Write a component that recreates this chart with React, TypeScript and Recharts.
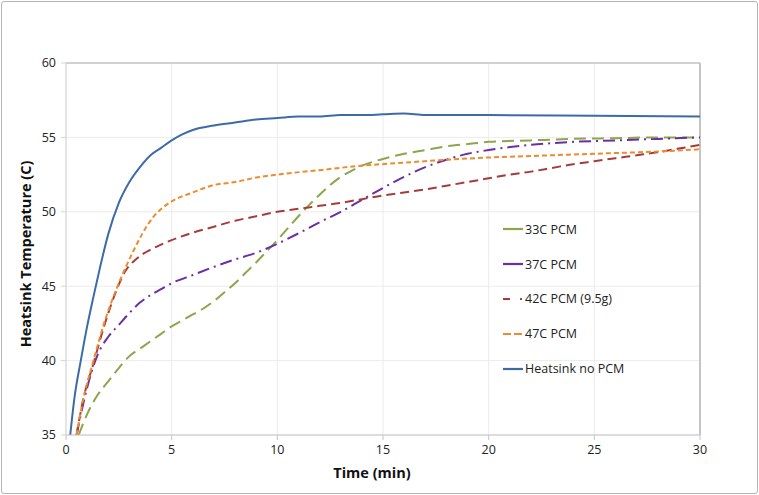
import { LineChart, Line, XAxis, YAxis, CartesianGrid, ReferenceLine } from 'recharts';

// time (min) / temperature (C)
const noPcmTime = [0.2, 0.4, 0.7, 1, 1.3, 1.6, 2, 2.5, 3, 3.5, 4, 4.5, 5, 5.5, 6, 7, 8, 9, 10, 11, 12, 13, 14, 15, 16, 17, 20, 25, 30];
const noPcmTemp = [35, 37.5, 40, 42.3, 44.3, 46.2, 48.5, 50.6, 52, 53, 53.8, 54.3, 54.8, 55.2, 55.5, 55.8, 56.0, 56.2, 56.3, 56.4, 56.4, 56.5, 56.5, 56.55, 56.6, 56.5, 56.5, 56.45, 56.4];

const pcm47Time = [0.5, 0.8, 1.3, 1.8, 2.3, 2.8, 3.2, 3.6, 4.1, 4.6, 5, 6, 7, 8, 9, 10, 12, 14, 16, 18, 20, 22, 24, 26, 28, 30];
const pcm47Temp = [35, 37.3, 40, 42.5, 44.5, 46.2, 47.4, 48.5, 49.6, 50.3, 50.7, 51.3, 51.8, 52.0, 52.3, 52.5, 52.8, 53.1, 53.3, 53.5, 53.65, 53.75, 53.85, 53.95, 54.05, 54.2];

const pcm42Time = [0.5, 0.8, 1.3, 1.8, 2.3, 2.8, 3.3, 3.8, 4.5, 5, 6, 7, 8, 9, 10, 11, 12, 13, 14, 15, 16, 17, 18, 19, 20, 21, 22, 23, 24, 25, 26, 27, 28, 29, 30];
const pcm42Temp = [35, 37.3, 39.8, 42.3, 44.4, 46, 46.8, 47.3, 47.8, 48.1, 48.6, 49.0, 49.4, 49.7, 50.0, 50.2, 50.4, 50.6, 50.85, 51.1, 51.3, 51.5, 51.75, 52.0, 52.25, 52.5, 52.7, 52.95, 53.2, 53.4, 53.6, 53.8, 54.0, 54.25, 54.5];

const pcm37Time = [0.5, 0.8, 1.2, 1.5, 2, 2.5, 3, 3.5, 4, 4.5, 5, 6, 7, 8, 9, 10, 11, 12, 13, 14, 15, 16, 17, 18, 19, 20, 22, 24, 26, 28, 30];
const pcm37Temp = [35, 37, 39.2, 40.4, 41.6, 42.4, 43.2, 43.9, 44.4, 44.8, 45.2, 45.75, 46.3, 46.8, 47.25, 47.85, 48.55, 49.3, 50.0, 50.8, 51.6, 52.35, 53.0, 53.5, 53.9, 54.15, 54.5, 54.7, 54.8, 54.9, 55.0];

const pcm33Time = [0.6, 1, 1.5, 2, 2.5, 3, 3.5, 4, 4.5, 5, 5.5, 6, 6.5, 7, 7.5, 8, 8.5, 9, 9.5, 10, 10.5, 11, 11.5, 12, 12.5, 13, 13.5, 14, 14.5, 15, 16, 17, 18, 19, 20, 22, 24, 26, 28, 30];
const pcm33Temp = [35, 36.4, 37.7, 38.6, 39.5, 40.3, 40.8, 41.3, 41.8, 42.3, 42.7, 43.1, 43.5, 44.0, 44.6, 45.2, 45.9, 46.6, 47.35, 48.1, 48.9, 49.7, 50.45, 51.15, 51.8, 52.35, 52.75, 53.1, 53.35, 53.55, 53.9, 54.15, 54.4, 54.55, 54.7, 54.8, 54.9, 54.95, 55.0, 55.0];

const xTicks = [0, 5, 10, 15, 20, 25, 30];
const yTicks = [35, 40, 45, 50, 55, 60];

const toPoints = (t: number[], v: number[]) => t.map((time, i) => ({ time, temp: v[i] }));

const series = [
  { name: '33C PCM', data: toPoints(pcm33Time, pcm33Temp), color: '#8ca64b', dash: '12 6', legendDash: undefined },
  { name: '37C PCM', data: toPoints(pcm37Time, pcm37Temp), color: '#6a2ea5', dash: '12 5 2 5', legendDash: undefined },
  { name: '42C PCM (9.5g)', data: toPoints(pcm42Time, pcm42Temp), color: '#a63b3b', dash: '9 5', legendDash: '7 10 2 20' },
  { name: '47C PCM', data: toPoints(pcm47Time, pcm47Temp), color: '#ee8b2d', dash: '5 3', legendDash: '8 3' },
  { name: 'Heatsink no PCM', data: toPoints(noPcmTime, noPcmTemp), color: '#3d6ba7', dash: undefined, legendDash: undefined },
];

const FONT = '"Open Sans", "Noto Sans", sans-serif';

function LegendBox() {
  return (
    <div style={{ fontFamily: FONT, fontSize: 12.5, color: '#222' }}>
      {series.map((s) => (
        <div key={s.name} style={{ display: 'flex', alignItems: 'center', height: 34.8 }}>
          <svg width={20} height={6} style={{ marginRight: 2 }}>
            <line x1={0} y1={3} x2={20} y2={3} stroke={s.color} strokeWidth={2.2} strokeDasharray={s.legendDash} />
          </svg>
          <span>{s.name}</span>
        </div>
      ))}
    </div>
  );
}

export default function App() {
  return (
    <div style={{ position: 'absolute', left: 0, top: 0, width: 759, height: 495, background: '#fff' }}>
      <div
        style={{
          position: 'absolute',
          left: 1,
          top: 1,
          width: 755,
          height: 491,
          border: '1px solid #b4b4b4',
          borderRadius: 3,
        }}
      />
      <LineChart width={759} height={495} margin={{ top: 63, right: 59, bottom: 30, left: 0 }}>
        <CartesianGrid stroke="#ececec" strokeWidth={1} />
        <XAxis
          type="number"
          dataKey="time"
          domain={[0, 30]}
          ticks={xTicks}
          allowDataOverflow
          stroke="#c4c4c4"
          tickSize={5}
          tickMargin={5}
          tick={{ fill: '#222', fontSize: 12.5, fontFamily: FONT }}
        />
        <YAxis
          type="number"
          dataKey="temp"
          domain={[35, 60]}
          ticks={yTicks}
          allowDataOverflow
          width={66}
          stroke="#d4d4d4"
          tickSize={5}
          tickMargin={5}
          tick={{ fill: '#222', fontSize: 12.5, fontFamily: FONT }}
        />
        <ReferenceLine y={60} stroke="#c4c4c4" strokeWidth={1.5} />
        <ReferenceLine x={30} stroke="#c4c4c4" strokeWidth={2} />
        {series.map((s) => (
          <Line
            key={s.name}
            data={s.data}
            dataKey="temp"
            name={s.name}
            type="monotone"
            stroke={s.color}
            strokeWidth={2}
            strokeDasharray={s.dash}
            dot={false}
            isAnimationActive={false}
          />
        ))}
      </LineChart>
      <div style={{ position: 'absolute', left: 503, top: 212 }}>
        <LegendBox />
      </div>
      <div
        style={{
          position: 'absolute',
          left: 372,
          top: 472,
          transform: 'translate(-50%, -50%)',
          fontFamily: FONT,
          fontWeight: 700,
          fontSize: 14.5,
          color: '#111',
          whiteSpace: 'nowrap',
        }}
      >
        Time (min)
      </div>
      <div
        style={{
          position: 'absolute',
          left: 25,
          top: 254,
          transform: 'translate(-50%, -50%) rotate(-90deg)',
          fontFamily: FONT,
          fontWeight: 700,
          fontSize: 14.5,
          color: '#111',
          whiteSpace: 'nowrap',
        }}
      >
        Heatsink Temperature (C)
      </div>
    </div>
  );
}
